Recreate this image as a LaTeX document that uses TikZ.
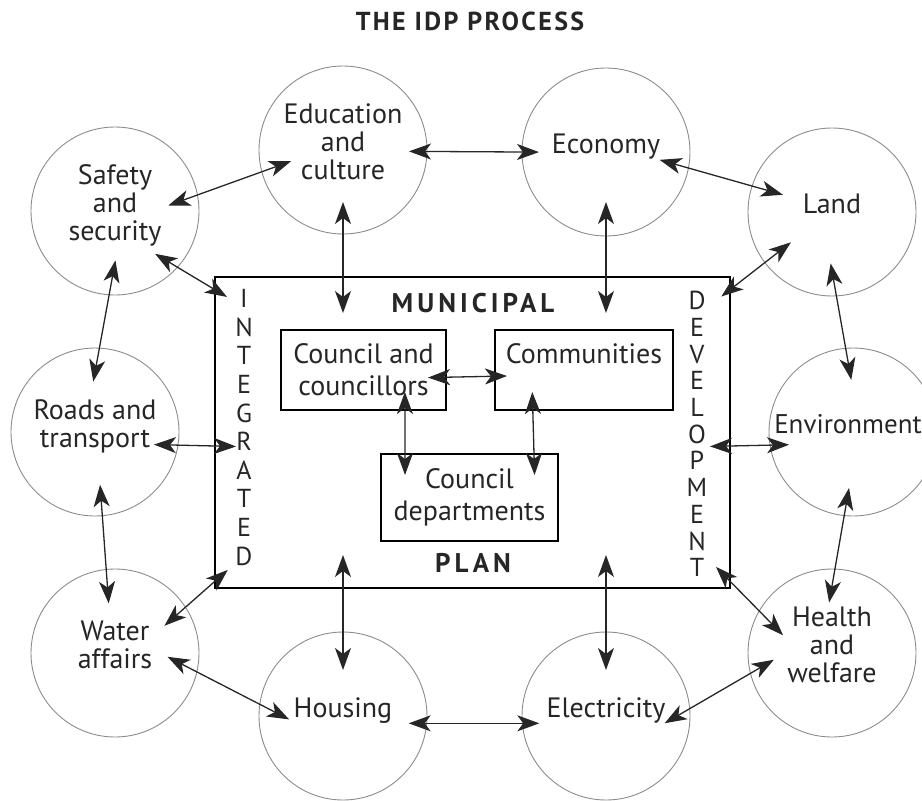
\documentclass[tikz,border=0pt]{standalone}
\usepackage{fontspec}
\setmainfont{PT Sans}
\newfontfamily\spacedsans[LetterSpace=15]{PT Sans}
\newfontfamily\titlesans[LetterSpace=9]{PT Sans}
\usetikzlibrary{arrows.meta}

\begin{document}
\begin{tikzpicture}[x=1pt,y=-1pt,
        >={Stealth[length=22pt,width=16pt,inset=6pt]},
        area/.style={circle,draw=black!45,line width=0.9pt,minimum size=168pt,inner sep=0pt,outer sep=0pt,
            align=center,text depth=16pt,font=\fontsize{28}{28}\selectfont,text=black!85},
        part/.style={draw,line width=1.4pt,inner sep=0pt,outer sep=0pt,align=center,
            font=\fontsize{28}{32}\selectfont,text=black!85},
        link/.style={<->,line width=1.3pt,draw=black!85},
        heading/.style={font=\spacedsans\fontsize{27}{28}\bfseries\selectfont,text=black!85}]
    \useasboundingbox (0,0) rectangle (922,801);
    \node[heading,font=\titlesans\fontsize{26}{28}\bfseries\selectfont] (title) at (470,21) {THE IDP PROCESS};
    \node[area] (safety) at (115,211) {Safety\\and\\security};
    \node[area] (edu) at (343,150) {Education\\and\\culture};
    \node[area] (econ) at (606,152) {Economy};
    \node[area] (land) at (832,212) {Land};
    \node[area] (roads) at (95,432) {Roads and\\transport};
    \node[area,font=\fontsize{27}{28}\selectfont] (env) at (853,432) {Environment\hspace*{10pt}};
    \node[area] (water) at (115,653) {Water\\affairs};
    \node[area] (housing) at (343,716) {Housing};
    \node[area] (elec) at (606,716) {Electricity};
    \node[area] (health) at (832,653) {Health\\and\\welfare};
    \node[draw,line width=1.8pt,minimum width=515pt,minimum height=311pt,inner sep=0pt,outer sep=0pt] (idp) at (472.5,432.5) {};
    \node[heading] (municipal) at (473,303) {MUNICIPAL};
    \node[heading] (plan) at (473,563) {PLAN};
    \node[align=center,font=\fontsize{26}{28.6}\selectfont,text=black!85] (integrated) at (244,427.5) {I\\N\\T\\E\\G\\R\\A\\T\\E\\D};
    \node[align=center,font=\fontsize{26}{26.7}\selectfont,text=black!85] (development) at (697,434) {D\\E\\V\\E\\L\\O\\P\\M\\E\\N\\T};
    \node[part,minimum width=165pt,minimum height=80pt] (council) at (363.5,370) {Council and\\councillors};
    \node[part,minimum width=178pt,minimum height=80pt] (comm) at (584,370) {Communities\\\mbox{}};
    \node[part,minimum width=177pt,minimum height=87pt] (dept) at (469.5,497.5) {Council\\departments};
    \draw[link,shorten <=-31pt,shorten >=-31pt] (safety.11) -- (edu.195);
    \draw[link,shorten <=-18pt,shorten >=-17pt] (edu.-1) -- (econ.180);
    \draw[link,shorten <=-30pt,shorten >=-32pt] (econ.-11) -- (land.162);
    \draw[link,shorten <=-35pt,shorten >=-34pt] (safety.266) -- (roads.87);
    \draw[link,shorten <=-33pt,shorten >=-32pt] (land.273) -- (env.95);
    \draw[link,shorten <=-31pt,shorten >=-34pt] (roads.275) -- (water.96);
    \draw[link,shorten <=-28pt,shorten >=-34pt] (env.264) -- (health.88);
    \draw[link,shorten <=-33pt,shorten >=-33pt] (water.-13) -- (housing.172);
    \draw[link,shorten <=-18pt,shorten >=-17pt] (housing.-5) -- (elec.185);
    \draw[link,shorten <=-29pt,shorten >=-27pt] (elec.5) -- (health.194);
    \draw[link,shorten <=-26pt,shorten >=-14pt] (safety.-42) -- (idp.151);
    \draw[link,shorten <=-32pt,shorten >=-36pt] (edu) -- (edu |- idp.north);
    \draw[link,shorten <=-34pt,shorten >=-36pt] (econ) -- (econ |- idp.north);
    \draw[link,shorten <=-33pt,shorten >=-11pt] (land.217) -- (idp.29.5);
    \draw[link,shorten <=-24pt,shorten >=-21pt] (roads.-9) -- (idp.183);
    \draw[link,shorten <=-19pt,shorten >=-20pt] (env.189) -- (idp.-3);
    \draw[link,shorten <=-28pt,shorten >=-17pt] (water.33) -- (idp.210);
    \draw[link,shorten <=-34pt,shorten >=-20pt] (health.150) -- (idp.-30);
    \draw[link,shorten <=-38pt,shorten >=-33pt] (housing) -- (housing |- idp.south);
    \draw[link,shorten <=-38pt,shorten >=-33pt] (elec) -- (elec |- idp.south);
    \draw[link,shorten <=-18pt,shorten >=-12pt] (council.-5) -- (comm.184.5);
    \draw[link,shorten <=-18pt,shorten >=-21pt] (council.-44) -- (dept.146);
    \draw[link,shorten <=-18pt,shorten >=-21pt] (comm.218) -- (dept.34);
\end{tikzpicture}
\end{document}
